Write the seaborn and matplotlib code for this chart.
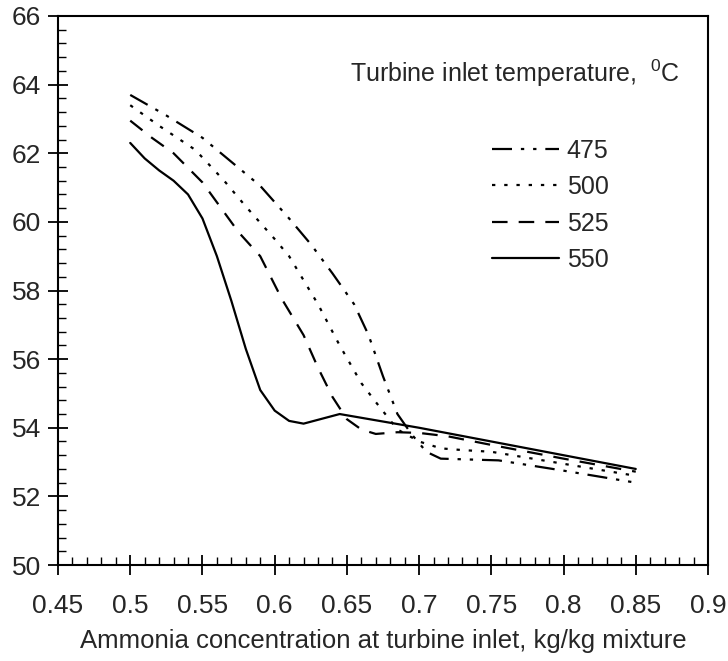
import matplotlib
matplotlib.use("Agg")
import matplotlib.pyplot as plt
from matplotlib.ticker import MultipleLocator
import seaborn as sns
import pandas as pd

# data (ammonia concentration vs efficiency-like quantity)
x_475 = [0.50, 0.525, 0.55, 0.57, 0.59, 0.61, 0.625, 0.64, 0.655, 0.665, 0.675, 0.685, 0.695, 0.705, 0.715, 0.755, 0.80, 0.85]
y_475 = [63.7, 63.1, 62.45, 61.75, 61.05, 60.1, 59.35, 58.5, 57.6, 56.7, 55.5, 54.4, 53.8, 53.3, 53.1, 53.05, 52.75, 52.4]

x_500 = [0.50, 0.52, 0.545, 0.565, 0.58, 0.60, 0.61, 0.63, 0.645, 0.66, 0.67, 0.685, 0.70, 0.715, 0.73, 0.75, 0.80, 0.85]
y_500 = [63.4, 62.8, 62.1, 61.2, 60.45, 59.5, 59.0, 57.6, 56.4, 55.3, 54.75, 53.95, 53.6, 53.4, 53.35, 53.3, 52.95, 52.6]

x_525 = [0.50, 0.515, 0.53, 0.55, 0.575, 0.59, 0.605, 0.62, 0.63, 0.64, 0.65, 0.66, 0.67, 0.685, 0.70, 0.72, 0.75, 0.80, 0.85]
y_525 = [62.95, 62.45, 62.0, 61.15, 59.7, 59.0, 57.75, 56.7, 55.75, 54.9, 54.25, 53.95, 53.82, 53.87, 53.85, 53.75, 53.5, 53.1, 52.72]

x_550 = [0.50, 0.51, 0.52, 0.53, 0.54, 0.55, 0.56, 0.57, 0.58, 0.59, 0.60, 0.61, 0.62, 0.645, 0.70, 0.75, 0.80, 0.85]
y_550 = [62.3, 61.85, 61.5, 61.2, 60.8, 60.1, 59.0, 57.7, 56.3, 55.1, 54.5, 54.2, 54.12, 54.4, 54.0, 53.6, 53.2, 52.8]

temps = ["475", "500", "525", "550"]
dash_styles = {
    "475": (0, (9, 4, 1.5, 4, 1.5, 4)),
    "500": (0, (1.5, 4)),
    "525": (0, (7, 5)),
    "550": "-",
}

sns.set_theme(style="ticks")
plt.rcParams["font.family"] = ["Liberation Sans", "DejaVu Sans"]
plt.rcParams["mathtext.fontset"] = "custom"
plt.rcParams["mathtext.rm"] = "Liberation Sans"

fig = plt.figure(figsize=(7.28, 6.61), dpi=100)
ax = fig.add_axes([0.0797, 0.1452, 0.8928, 0.8306])

series = {"475": (x_475, y_475), "500": (x_500, y_500),
          "525": (x_525, y_525), "550": (x_550, y_550)}
for t in temps:
    xs, ys = series[t]
    df = pd.DataFrame({"conc": xs, "val": ys})
    sns.lineplot(data=df, x="conc", y="val", ax=ax, color="black", lw=1.6,
                 linestyle=dash_styles[t], label=t, estimator=None, sort=False)

ax.set_xlim(0.45, 0.9)
ax.set_ylim(50, 66)
ax.xaxis.set_major_locator(MultipleLocator(0.05))
ax.xaxis.set_minor_locator(MultipleLocator(0.01))
ax.yaxis.set_major_locator(MultipleLocator(2))
ax.yaxis.set_minor_locator(MultipleLocator(0.4))
ax.set_xticks([0.45, 0.5, 0.55, 0.6, 0.65, 0.7, 0.75, 0.8, 0.85, 0.9])
ax.set_xticklabels(["0.45", "0.5", "0.55", "0.6", "0.65", "0.7", "0.75", "0.8", "0.85", "0.9"])
ax.tick_params(which="major", direction="inout", length=14, width=1.3, labelsize=19, pad=5, color="black")
ax.tick_params(which="minor", direction="in", length=6, width=1.0, color="black")
ax.tick_params(axis="x", pad=14)
ax.tick_params(top=False, right=False, which="both")
for s in ax.spines.values():
    s.set_color("black")
    s.set_linewidth(1.5)

ax.set_xlabel("Ammonia concentration at turbine inlet, kg/kg mixture", fontsize=18.5, labelpad=8)
ax.set_ylabel("")

ax.text(0.449, 0.896, r"Turbine inlet temperature,  $^{0}$C", transform=ax.transAxes,
        fontsize=18, ha="left", va="center")
ax.legend(loc="upper left", bbox_to_anchor=(0.652, 0.795), frameon=False, fontsize=18,
          handlelength=2.7, handletextpad=0.3, labelspacing=0.5, borderaxespad=0)

fig.savefig("out.png", dpi=100)
